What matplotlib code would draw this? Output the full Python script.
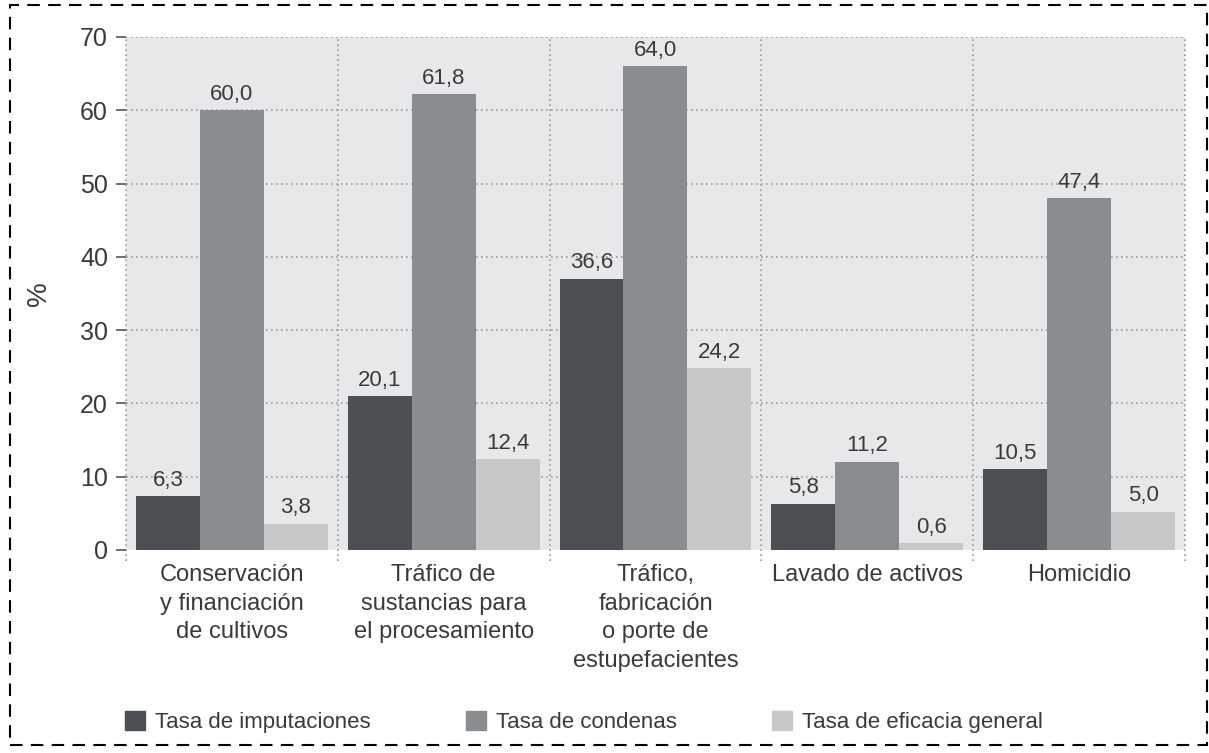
import matplotlib.pyplot as plt
from matplotlib.patches import Rectangle, Patch
import numpy as np

plt.rcParams['font.family'] = ['Liberation Sans', 'DejaVu Sans']

categories = ['Conservación\ny financiación\nde cultivos',
              'Tráfico de\nsustancias para\nel procesamiento',
              'Tráfico,\nfabricación\no porte de\nestupefacientes',
              'Lavado de activos',
              'Homicidio']
series_names = ['Tasa de imputaciones', 'Tasa de condenas', 'Tasa de eficacia general']

# bar heights as drawn in the source picture
imputaciones = [7.3, 21.0, 37.0, 6.3, 11.0]
condenas = [60.0, 62.2, 66.0, 12.0, 48.0]
eficacia = [3.6, 12.4, 24.8, 0.9, 5.2]

# printed value labels
imputaciones_lbl = ['6,3', '20,1', '36,6', '5,8', '10,5']
condenas_lbl = ['60,0', '61,8', '64,0', '11,2', '47,4']
eficacia_lbl = ['3,8', '12,4', '24,2', '0,6', '5,0']

colors = ['#4c4f53', '#8a8d90', '#c6c8ca']
text_color = '#3a3a3a'

fig = plt.figure(figsize=(12.09, 7.53), dpi=100)
ax = fig.add_axes([0.1042, 0.2696, 0.8759, 0.6813])
ax.set_facecolor('#e7e8ea')

x = np.arange(len(categories))
w = 0.302
all_vals = [imputaciones, condenas, eficacia]
all_lbls = [imputaciones_lbl, condenas_lbl, eficacia_lbl]
for k in range(3):
    bars = ax.bar(x + (k - 1) * w, all_vals[k], width=w, color=colors[k], zorder=3)
    for b, lbl in zip(bars, all_lbls[k]):
        ax.annotate(lbl, (b.get_x() + b.get_width() / 2, b.get_height()),
                    xytext=(0, 4), textcoords='offset points', ha='center', va='bottom',
                    fontsize=16, color=text_color)

ax.set_xlim(-0.5, len(categories) - 0.5)
ax.set_ylim(0, 70)
ax.set_yticks(range(0, 71, 10))
ax.tick_params(axis='y', length=7, width=1.2, color='#555555', labelsize=18,
               labelcolor=text_color, pad=6)
ax.set_xticks(x)
ax.set_xticklabels(categories, fontsize=17, color=text_color, linespacing=1.4)
ax.tick_params(axis='x', length=0, pad=10)
for s in ax.spines.values():
    s.set_visible(False)

for yv in range(10, 71, 10):
    ax.axhline(yv, color='#9a9a9a', lw=1.2, ls=(0, (1, 2)), zorder=1)
ax.vlines(np.arange(-0.5, len(categories)), -1.5, 70, color='#9a9a9a', lw=1.2,
          ls=(0, (1, 2)), zorder=1, clip_on=False)

ax.set_ylabel('%', fontsize=20, color=text_color, labelpad=20)

handles = [Patch(color=c) for c in colors]
fig.legend(handles, series_names, loc='center', bbox_to_anchor=(0.483, 0.041), ncol=3,
           frameon=False, fontsize=16, handlelength=0.9, handleheight=0.9,
           handletextpad=0.45, columnspacing=4.3, labelcolor=text_color)

fig.add_artist(Rectangle((0.0083, 0.0106), 0.9897, 0.9828, transform=fig.transFigure,
                         fill=False, ec='black', lw=1.5, ls=(0, (6, 4))))

fig.savefig('out.png', dpi=100)
